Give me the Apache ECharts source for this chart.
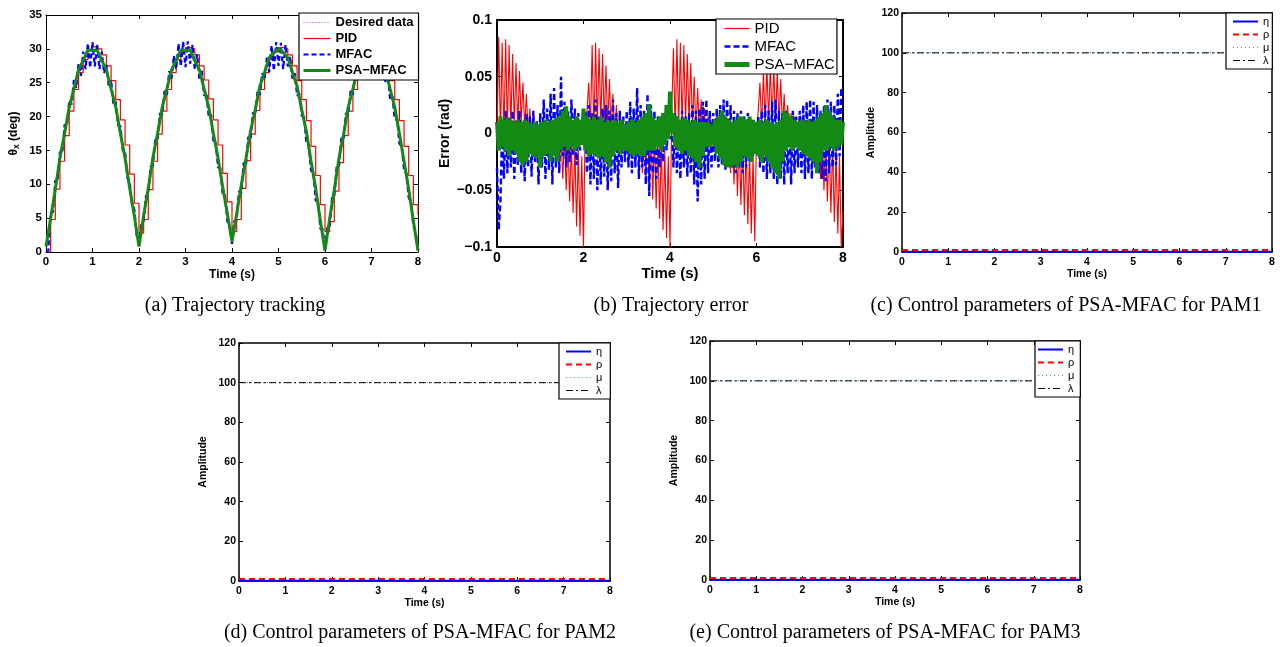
<!DOCTYPE html>
<html><head><meta charset="utf-8">
<script src="https://cdn.jsdelivr.net/npm/echarts@6/dist/echarts.min.js"></script>
<style>html,body{margin:0;padding:0;background:#fff}#c{width:1286px;height:647px}</style>
</head><body><div id="c"></div>
<script>
// ---------------- data ----------------
const stepA = 0.1;    // sampling step (s) of panel (a): desired, PID, PSA-MFAC
const stepAm = 0.05;  // sampling step (s) of panel (a): MFAC
const stepB = 0.04;   // sampling step (s) of panel (b)

const aDesired = [
 0.5,4.9,9.4,13.7,17.6,21.2,24.3,26.7,28.5,29.6,
 30.0,29.6,28.5,26.7,24.3,21.2,17.7,13.8,9.6,5.3,
 1.0,5.2,9.6,13.8,17.7,21.2,24.3,26.7,28.5,29.6,
 30.0,29.6,28.5,26.7,24.3,21.2,17.7,13.8,9.7,5.6,
 1.5,5.7,9.8,13.9,17.7,21.2,24.3,26.7,28.5,29.6,
 30.0,29.6,28.5,26.7,24.3,21.2,17.6,13.6,9.3,4.8,
 0.3,4.8,9.3,13.6,17.6,21.2,24.3,26.7,28.5,29.6,
 30.0,29.6,28.5,26.7,24.3,21.2,17.6,13.6,9.3,4.8,
 0.3];
const aPID = [
 0,4.8,9.3,13.4,17.2,20.8,24.0,26.5,28.4,29.7,
 30.3,30.0,29.1,27.5,25.3,22.5,19.5,15.8,11.5,7.2,
 2.8,4.8,9.2,13.4,17.4,20.8,24.0,26.5,28.4,29.6,
 30.2,30.0,29.1,27.5,25.4,22.6,19.5,15.8,11.6,7.4,
 3.0,4.8,9.4,13.5,17.4,20.9,24.0,26.5,28.4,29.6,
 30.2,30.0,29.1,27.5,25.3,22.5,19.4,15.6,11.3,7.0,
 3.0,4.5,9.0,13.2,17.2,20.8,24.0,26.5,28.4,29.6,
 30.2,30.0,29.1,27.5,25.3,22.5,19.4,15.6,11.3,7.0,
 5.5];
const aMFAC = [
 0.0,0.2,5.8,5.9,10.6,10.4,14.8,14.6,18.8,18.6,
 22.4,21.8,25.4,24.2,27.8,26.0,29.6,27.0,30.8,27.2,
 31.0,27.4,30.7,27.0,29.6,26.4,27.6,24.4,25.4,21.8,
 22.2,18.7,18.6,15.0,14.9,10.9,10.4,7.0,6.3,2.4,
 1.5,4.0,4.6,8.3,8.6,12.6,12.8,16.7,16.7,20.5,
 20.3,23.8,23.2,26.7,25.6,29.0,27.0,30.8,27.4,31.1,
 27.3,31.1,27.8,30.6,27.0,29.2,25.4,26.8,23.1,23.6,
 19.9,20.3,16.4,16.3,12.5,12.4,8.4,8.4,4.5,4.0,
 1.2,4.6,4.7,9.0,8.7,13.2,12.8,17.0,16.6,20.6,
 20.2,23.8,23.2,26.4,25.5,28.7,26.6,30.5,26.8,31.0,
 27.5,30.9,27.0,30.6,27.4,28.9,25.6,26.4,23.1,23.4,
 20.1,19.9,16.1,15.8,12.0,11.8,7.6,7.6,3.4,3.4,
 0.5,3.6,3.6,8.0,8.2,12.6,12.6,16.8,16.6,20.5,
 20.2,23.8,23.2,26.5,25.5,28.7,27.0,30.4,27.4,30.8,
 27.6,30.8,27.6,30.2,26.8,28.8,25.1,26.2,22.6,23.0,
 19.6,19.6,16.0,15.6,12.0,11.6,8.0,7.4,3.8,3.0,
 0.4];
const aPSA = [
 0.8,5.0,9.2,13.9,17.5,21.4,24.1,26.9,28.3,29.8,
 29.8,29.8,28.3,26.9,24.1,21.4,17.5,13.9,9.4,5.3,
 0.8,5.4,9.4,14.0,17.5,21.4,24.1,26.9,28.3,29.8,
 29.8,29.8,28.3,26.9,24.1,21.4,17.5,13.9,9.6,5.7,
 1.5,5.6,9.9,13.8,17.9,21.0,24.5,26.5,28.7,29.5,
 30.0,29.5,28.7,26.5,24.5,21.0,17.8,13.4,9.4,4.6,
 0.2,4.9,9.2,13.8,17.4,21.4,24.1,26.9,28.3,29.8,
 29.8,29.8,28.3,26.9,24.1,21.4,17.5,13.4,9.3,4.6,
 0.2];

const bPID = [
 0.0,0.085,0.0,0.08,-0.005,0.083,0.002,0.078,0.005,0.07,0.008,0.062,0.005,0.055,0.01,0.045,0.005,0.035,0.0,0.022,-0.005,0.015,-0.01,0.01,-0.012,
 0.01,-0.012,0.012,-0.015,0.01,-0.018,0.008,-0.022,0.005,-0.027,0.003,-0.033,0.0,-0.04,-0.002,-0.05,-0.005,-0.06,-0.008,-0.07,-0.01,-0.082,-0.015,-0.09,-0.02,
 -0.1,0.01,0.02,0.045,0.005,0.078,0.0,0.08,0.005,0.075,0.008,0.07,0.01,0.06,0.005,0.048,0.0,0.035,-0.005,0.025,-0.01,0.018,-0.015,0.012,-0.015,
 0.01,-0.015,0.012,-0.018,0.01,-0.022,0.015,-0.028,0.02,-0.035,0.015,-0.042,0.02,-0.05,0.005,-0.058,0.0,-0.066,-0.005,-0.075,-0.01,-0.085,-0.015,-0.092,-0.02,
 -0.1,0.02,0.075,0.0,0.083,0.002,0.08,0.005,0.078,0.008,0.07,0.01,0.062,0.005,0.05,0.0,0.04,-0.005,0.03,-0.01,0.022,-0.012,0.015,-0.012,0.01,
 -0.012,0.01,-0.015,0.012,-0.018,0.01,-0.022,0.012,-0.028,0.01,-0.035,0.008,-0.045,0.005,-0.055,0.0,-0.063,-0.005,-0.072,-0.01,-0.08,-0.015,-0.088,-0.02,-0.095,
 0.0,0.02,0.045,0.005,0.055,0.008,0.06,0.01,0.06,0.012,0.058,0.01,0.055,0.008,0.048,0.005,0.035,0.0,0.025,-0.005,0.018,-0.01,0.015,-0.012,0.01,
 -0.012,0.01,-0.015,0.012,-0.018,0.01,-0.022,0.01,-0.026,0.008,-0.032,0.005,-0.04,0.002,-0.05,0.0,-0.06,-0.005,-0.07,-0.01,-0.078,-0.015,-0.088,-0.02,-0.1,-0.068];
const bMFAC = [
 -0.03,-0.085,-0.06,0.005,-0.04,0.02,-0.035,0.015,-0.03,0.02,-0.04,0.012,-0.028,0.02,-0.035,0.01,-0.042,0.018,-0.03,0.015,-0.038,0.02,-0.025,0.012,-0.045,
 0.018,-0.03,0.03,-0.04,0.022,-0.032,0.035,-0.045,0.04,-0.03,0.025,-0.035,0.05,-0.02,0.028,-0.03,0.02,-0.025,0.03,-0.02,0.022,-0.028,0.018,-0.015,0.01,
 -0.01,0.02,-0.035,0.025,-0.045,0.018,-0.04,0.03,-0.05,0.015,-0.045,0.022,-0.038,0.025,-0.05,0.02,-0.042,0.03,-0.035,0.018,-0.048,0.02,-0.03,0.015,-0.025,
 0.02,-0.03,0.028,-0.035,0.022,-0.03,0.04,-0.04,0.025,-0.03,0.02,-0.045,0.035,-0.055,0.025,-0.035,0.02,-0.04,0.015,-0.03,0.012,-0.025,0.01,-0.015,0.005,
 -0.005,0.015,-0.03,0.018,-0.035,0.012,-0.04,0.02,-0.03,0.015,-0.038,0.018,-0.035,0.025,-0.045,0.02,-0.06,0.022,-0.045,0.028,-0.04,0.03,-0.035,0.02,-0.03,
 0.018,-0.025,0.022,-0.03,0.025,-0.028,0.03,-0.032,0.03,-0.025,0.025,-0.03,0.02,-0.035,0.018,-0.03,0.02,-0.035,0.015,-0.03,0.018,-0.025,0.012,-0.02,0.01,
 -0.01,0.015,-0.03,0.02,-0.035,0.025,-0.04,0.02,-0.035,0.028,-0.04,0.03,-0.045,0.02,-0.04,0.018,-0.045,0.02,-0.035,0.015,-0.045,0.02,-0.035,0.015,-0.03,
 0.02,-0.035,0.025,-0.04,0.028,-0.035,0.03,-0.04,0.028,-0.03,0.025,-0.035,0.02,-0.04,0.025,-0.042,0.03,-0.035,0.028,-0.03,0.025,-0.028,0.035,-0.02,0.04,0.03];
const bPSA = [
 0.01,-0.015,0.015,-0.012,0.012,-0.015,0.014,-0.02,0.012,-0.015,0.01,-0.018,0.012,-0.025,0.01,-0.028,0.012,-0.025,0.01,-0.018,0.008,-0.02,0.01,-0.022,0.008,
 -0.03,0.01,-0.02,0.012,-0.018,0.01,-0.025,0.012,-0.02,0.014,-0.025,0.015,-0.015,0.02,-0.012,0.024,-0.015,0.015,-0.012,0.012,-0.015,0.015,-0.012,0.012,-0.01,
 0.022,-0.015,0.015,-0.02,0.012,-0.018,0.015,-0.02,0.012,-0.022,0.015,-0.02,0.01,-0.025,0.012,-0.03,0.01,-0.02,0.012,-0.015,0.01,-0.018,0.012,-0.015,0.008,
 -0.015,0.01,-0.018,0.012,-0.02,0.01,-0.018,0.012,-0.02,0.015,-0.02,0.018,-0.015,0.026,-0.015,0.015,-0.015,0.012,-0.012,0.015,-0.015,0.018,-0.01,0.025,-0.005,
 0.037,0.0,0.018,-0.012,0.015,-0.015,0.012,-0.018,0.014,-0.015,0.012,-0.02,0.01,-0.022,0.012,-0.025,0.01,-0.03,0.01,-0.02,0.01,-0.012,0.01,-0.012,0.008,
 -0.01,0.012,-0.018,0.015,-0.022,0.02,-0.028,0.015,-0.03,0.012,-0.03,0.01,-0.028,0.012,-0.03,0.015,-0.025,0.015,-0.02,0.012,-0.022,0.015,-0.025,0.012,-0.018,
 0.01,-0.02,0.012,-0.025,0.01,-0.02,0.012,-0.025,0.01,-0.03,0.008,-0.035,0.01,-0.04,0.012,-0.025,0.02,-0.015,0.018,-0.012,0.015,-0.015,0.012,-0.012,0.01,
 -0.015,0.012,-0.018,0.01,-0.02,0.012,-0.022,0.01,-0.025,0.012,-0.035,0.015,-0.025,0.018,-0.015,0.025,-0.015,0.02,-0.012,0.015,-0.015,0.012,-0.012,0.012,-0.01,0.01];

const paramTime = [0,1,2,3,4,5,6,7,8];
const pam1Eta    = [0.1,0.1,0.1,0.1,0.1,0.1,0.1,0.1,0.1];
const pam1Rho    = [1,1,1,1,1,1,1,1,1];
const pam1Mu     = [100,100,100,100,100,100,100,100,100];
const pam1Lambda = [100,100,100,100,100,100,100,100,100];
const pam2Eta    = [0.1,0.1,0.1,0.1,0.1,0.1,0.1,0.1,0.1];
const pam2Rho    = [1,1,1,1,1,1,1,1,1];
const pam2Mu     = [100,100,100,100,100,100,100,100,100];
const pam2Lambda = [100,100,100,100,100,100,100,100,100];
const pam3Eta    = [0.1,0.1,0.1,0.1,0.1,0.1,0.1,0.1,0.1];
const pam3Rho    = [1,1,1,1,1,1,1,1,1];
const pam3Mu     = [100,100,100,100,100,100,100,100,100];
const pam3Lambda = [100,100,100,100,100,100,100,100,100];

const captions = [
 '(a) Trajectory tracking',
 '(b) Trajectory error',
 '(c) Control parameters of PSA-MFAC for PAM1',
 '(d) Control parameters of PSA-MFAC for PAM2',
 '(e) Control parameters of PSA-MFAC for PAM3'
];

// ---------------- layout / style ----------------
const SANS = '"Liberation Sans", Arial, Helvetica, sans-serif';
const SERIF = '"Liberation Serif", "Times New Roman", serif';
const panels = [
 {grid:{left:46,top:15,width:372,height:237}, x:[0,8,1], y:[0,35,5], lw:1, fs:11.5, xm:4, ym:4,
  xNameGap:15, xNameSize:12, yName:'{a|θ}{b|x}{a| (deg)}', yNameGap:25, yNameSize:11.5, yNameWeight:'bold'},
 {grid:{left:497,top:20,width:346,height:227}, x:[0,8,2], y:[-0.1,0.1,0.05], lw:2, fs:14, xm:4, ym:5,
  xNameGap:18, xNameSize:15, yName:'Error (rad)', yNameGap:45, yNameSize:14, yNameWeight:'bold'},
 {grid:{left:902,top:13,width:370,height:239}, x:[0,8,1], y:[0,120,20], lw:1.5, fs:10.5, xm:5, ym:3,
  xNameGap:17, xNameSize:10.5, yName:'Amplitude', yNameGap:25, yNameSize:10.5, yNameWeight:'bold'},
 {grid:{left:239,top:343,width:371,height:238}, x:[0,8,1], y:[0,120,20], lw:1.5, fs:10.5, xm:5, ym:3,
  xNameGap:17, xNameSize:10.5, yName:'Amplitude', yNameGap:30, yNameSize:10.5, yNameWeight:'bold'},
 {grid:{left:710,top:341,width:370,height:239}, x:[0,8,1], y:[0,120,20], lw:1.5, fs:10.5, xm:5, ym:3,
  xNameGap:17, xNameSize:10.5, yName:'Amplitude', yNameGap:30, yNameSize:10.5, yNameWeight:'bold'}
];

const grids = [], xAxes = [], yAxes = [];
panels.forEach((p, g) => {
  grids.push(Object.assign({containLabel:false, show:false}, p.grid));
  const line = {show:true, onZero:false, lineStyle:{color:'#000', width:p.lw}};
  const tick = {show:true, inside:true, length:4, lineStyle:{color:'#000', width:1}};
  const lab = {color:'#000', fontWeight:'bold', fontSize:p.fs, fontFamily:SANS};
  xAxes.push({type:'value', gridIndex:g, min:p.x[0], max:p.x[1], interval:p.x[2], position:'bottom',
    axisLine:line, axisTick:tick, splitLine:{show:false},
    axisLabel:Object.assign({margin:p.xm}, lab),
    name:'Time (s)', nameLocation:'middle', nameGap:p.xNameGap,
    nameTextStyle:{color:'#000', fontWeight:'bold', fontSize:p.xNameSize, fontFamily:SANS}});
  xAxes.push({type:'value', gridIndex:g, min:p.x[0], max:p.x[1], interval:p.x[2], position:'top',
    axisLine:line, axisTick:tick, splitLine:{show:false}, axisLabel:{show:false}});
  yAxes.push({type:'value', gridIndex:g, min:p.y[0], max:p.y[1], interval:p.y[2], position:'left',
    axisLine:line, axisTick:tick, splitLine:{show:false},
    axisLabel:Object.assign({margin:p.ym, formatter: v => (v < 0 ? '\u2212' + String(+(-v).toFixed(4)) : String(+v.toFixed(4)))}, lab),
    name:p.yName, nameLocation:'middle', nameGap:p.yNameGap,
    nameTextStyle:{color:'#000', fontWeight:p.yNameWeight, fontSize:p.yNameSize, fontFamily:SANS,
      rich:{a:{fontSize:12, fontWeight:'bold', fontFamily:SANS, color:'#000'},
            b:{fontSize:8.5, fontWeight:'bold', fontFamily:SANS, color:'#000', padding:[6,0,0,0]}}}});
  yAxes.push({type:'value', gridIndex:g, min:p.y[0], max:p.y[1], interval:p.y[2], position:'right',
    axisLine:line, axisTick:tick, splitLine:{show:false}, axisLabel:{show:false}});
});

const toXY = (arr, step) => arr.map((v, i) => [+(i * step).toFixed(3), v]);
const toXYt = (arr) => arr.map((v, i) => [paramTime[i], v]);
function ser(name, g, data, color, width, type, extra) {
  return Object.assign({name, type:'line', xAxisIndex:2*g, yAxisIndex:2*g, data, symbol:'none', showSymbol:false,
    silent:true, animation:false, itemStyle:{color}, lineStyle:{color, width, type: type || 'solid'}}, extra || {});
}
const RED = '#ff0000', BLUE = '#0000ff', GREEN = '#138a13';
const series = [
  ser('a|Desired data', 0, toXY(aDesired, stepA), '#b040b0', 1, [1,2]),
  ser('a|PID', 0, toXY(aPID, stepA), RED, 1.2, 'solid', {step:'end'}),
  ser('a|MFAC', 0, toXY(aMFAC, stepAm), BLUE, 2.2, [5,3]),
  ser('a|PSA\u2212MFAC', 0, toXY(aPSA, stepA), GREEN, 3),
  ser('b|PID', 1, toXY(bPID, stepB), RED, 1.1),
  ser('b|MFAC', 1, toXY(bMFAC, stepB), BLUE, 2.4, [6,3]),
  ser('b|PSA\u2212MFAC', 1, toXY(bPSA, stepB), GREEN, 4)
];
const pams = [[pam1Eta,pam1Rho,pam1Mu,pam1Lambda],[pam2Eta,pam2Rho,pam2Mu,pam2Lambda],[pam3Eta,pam3Rho,pam3Mu,pam3Lambda]];
const pk = ['c','d','e'];
pams.forEach((p, k) => {
  const g = k + 2, P = pk[k] + '|';
  series.push(ser(P+'\u03b7', g, toXYt(p[0]), BLUE, 2));
  series.push(ser(P+'\u03c1', g, toXYt(p[1]), RED, 2, [6,4]));
  series.push(ser(P+'\u03bc', g, toXYt(p[2]), '#44bb44', 1.2, [1,3]));
  series.push(ser(P+'\u03bb', g, toXYt(p[3]), '#000000', 1, [7,3,2,3]));
});

const fmt = n => n.split('|')[1];
function leg(left, top, padding, gap, iw, ih, fs, weight, names) {
  return {orient:'vertical', left, top, padding, itemGap:gap, itemWidth:iw, itemHeight:ih,
    backgroundColor:'#fff', borderColor:'#000', borderWidth:1.2, borderRadius:0, selectedMode:false,
    itemStyle:{opacity:0, borderWidth:0},
    formatter:fmt, textStyle:{fontFamily:SANS, fontWeight:weight, fontSize:fs, color:'#000'}, data:names};
}
const legends = [
  leg(299, 13, [3,5,3,3], 3, 27, 12, 13, 'bold', [
    {name:'a|Desired data', lineStyle:{width:1}}, {name:'a|PID', lineStyle:{width:1.2}},
    {name:'a|MFAC', lineStyle:{width:2.2}}, {name:'a|PSA\u2212MFAC', lineStyle:{width:3}}]),
  leg(716, 19, [2,2,2,6], 3, 25, 14, 15, 'normal', [
    {name:'b|PID', lineStyle:{width:1.2}}, {name:'b|MFAC', lineStyle:{width:2.4}}, {name:'b|PSA\u2212MFAC', lineStyle:{width:5}}]),
  ...pk.map((c, k) => leg([1226,559,1035][k], [13,343,341][k], [[3,3,3,6],[3,8,3,6],[3,6,3,2]][k], 2, 25, 12, 11, 'normal', [
    {name:c+'|\u03b7', lineStyle:{width:2}}, {name:c+'|\u03c1', lineStyle:{width:2}},
    {name:c+'|\u03bc', lineStyle:{width:1.2}}, {name:c+'|\u03bb', lineStyle:{width:1}}]))
];

const capPos = [[235,306],[671,306],[1066,306],[420,633],[885,633]];
const graphic = captions.map((t, i) => ({type:'text', x:capPos[i][0], y:capPos[i][1], silent:true,
  style:{text:t, font:'20px ' + SERIF, fill:'#000', align:'center', verticalAlign:'middle',
    textAlign:'center', textVerticalAlign:'middle'}}));

const chart = echarts.init(document.getElementById('c'), null, {renderer:'canvas'});
chart.setOption({animation:false, backgroundColor:'#fff', grid:grids, xAxis:xAxes, yAxis:yAxes,
  series, legend:legends, graphic});
</script></body></html>
